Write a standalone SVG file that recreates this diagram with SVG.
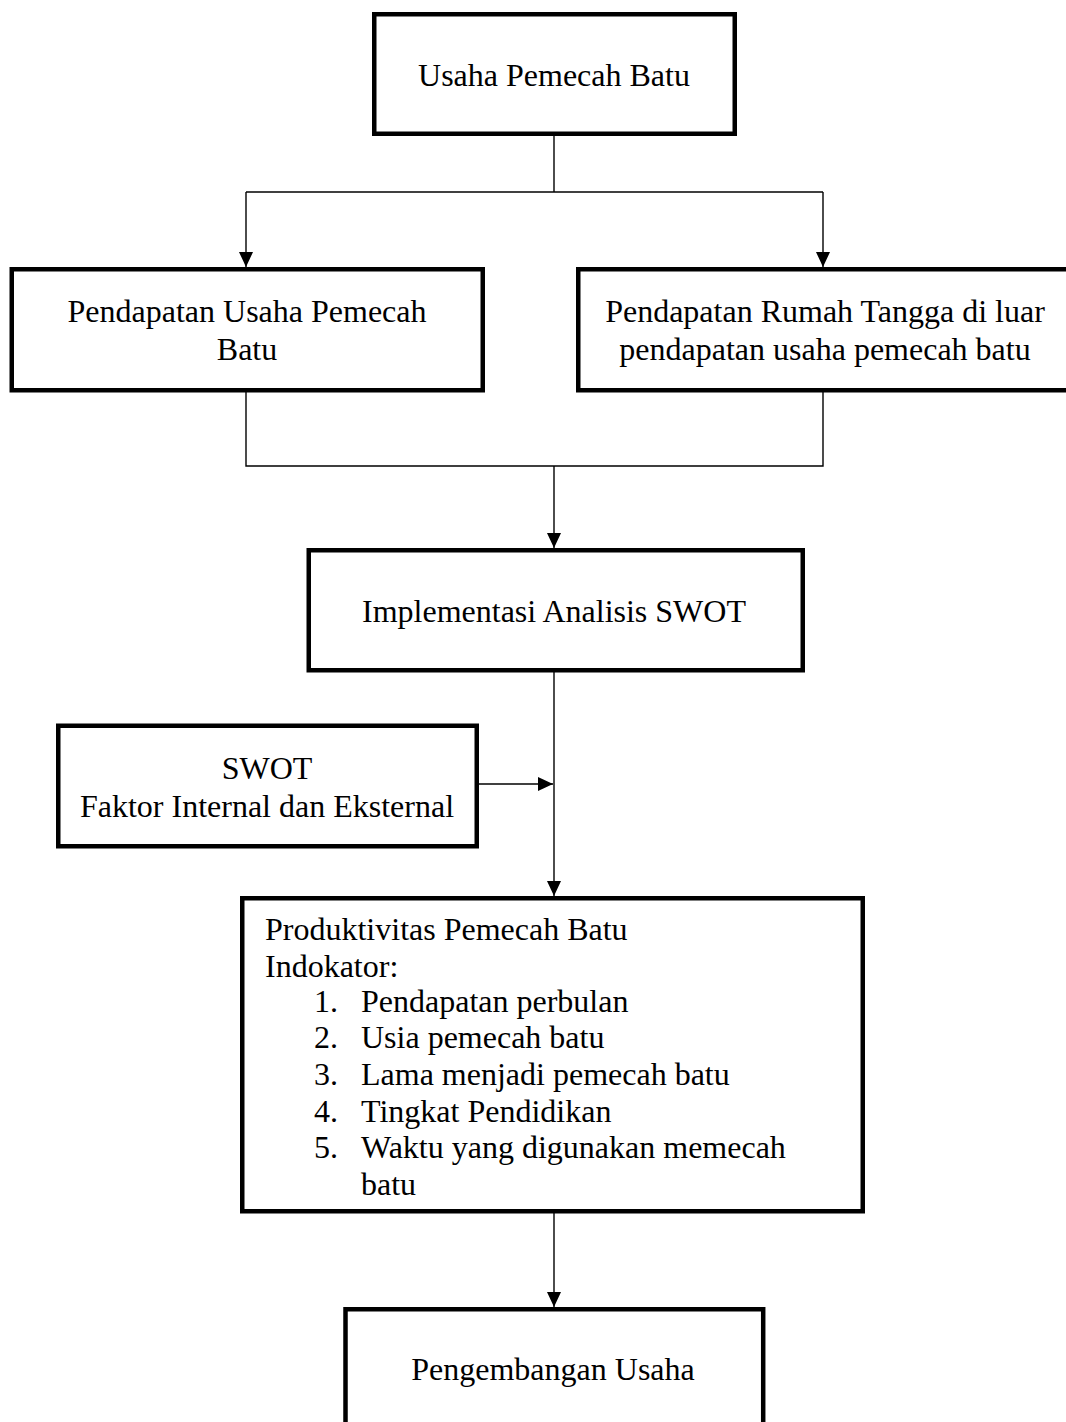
<svg xmlns="http://www.w3.org/2000/svg" width="1066" height="1422" viewBox="0 0 1066 1422">
  <style>
    .box { fill: #ffffff; stroke: #000000; stroke-width: 4.5; }
    .t { font-family: "Liberation Serif", "Times New Roman", serif; font-size: 32px; fill: #000000; }
    .c { text-anchor: middle; }
    .ln { fill: none; stroke: #000000; stroke-width: 1.4; }
  </style>
  <defs>
    <marker id="arr" markerUnits="userSpaceOnUse" markerWidth="16" markerHeight="16" refX="15" refY="7" orient="auto">
      <path d="M0,0 L15,7 L0,14 Z" fill="#000000"/>
    </marker>
  </defs>
  <rect width="1066" height="1422" fill="#ffffff"/>

  <g id="connectors">
    <path class="ln" d="M554,136 V192"/>
    <path class="ln" d="M246,192 H823"/>
    <path class="ln" d="M246,192 V267" marker-end="url(#arr)"/>
    <path class="ln" d="M823,192 V267" marker-end="url(#arr)"/>
    <path class="ln" d="M246,392 V466 H823 V392"/>
    <path class="ln" d="M554,466 V548" marker-end="url(#arr)"/>
    <path class="ln" d="M554,672 V896" marker-end="url(#arr)"/>
    <path class="ln" d="M479,784 H553" marker-end="url(#arr)"/>
    <path class="ln" d="M554,1213 V1307" marker-end="url(#arr)"/>
  </g>

  <g id="usaha">
    <rect class="box" x="374.25" y="14.25" width="360.5" height="119.5"/>
    <text class="t c" x="554" y="86">Usaha Pemecah Batu</text>
  </g>

  <g id="pendapatan-usaha">
    <rect class="box" x="11.75" y="269.25" width="471" height="121"/>
    <text class="t c" x="247" y="322">Pendapatan Usaha Pemecah</text>
    <text class="t c" x="247" y="360">Batu</text>
  </g>

  <g id="pendapatan-rumah-tangga">
    <rect class="box" x="578.25" y="269.25" width="500" height="121"/>
    <text class="t c" x="825" y="322">Pendapatan Rumah Tangga di luar</text>
    <text class="t c" x="825" y="360">pendapatan usaha pemecah batu</text>
  </g>

  <g id="implementasi">
    <rect class="box" x="308.75" y="550.25" width="494" height="120"/>
    <text class="t c" x="554" y="622">Implementasi Analisis SWOT</text>
  </g>

  <g id="swot">
    <rect class="box" x="58.25" y="725.75" width="418.5" height="120.5"/>
    <text class="t c" x="267" y="779">SWOT</text>
    <text class="t c" x="267" y="817">Faktor Internal dan Eksternal</text>
  </g>

  <g id="produktivitas">
    <rect class="box" x="242.25" y="898.25" width="620.5" height="313"/>
    <text class="t" x="265" y="940">Produktivitas Pemecah Batu</text>
    <text class="t" x="265" y="977">Indokator:</text>
    <text class="t" x="314" y="1012">1.</text>
    <text class="t" x="361" y="1012">Pendapatan perbulan</text>
    <text class="t" x="314" y="1048">2.</text>
    <text class="t" x="361" y="1048">Usia pemecah batu</text>
    <text class="t" x="314" y="1085">3.</text>
    <text class="t" x="361" y="1085">Lama menjadi pemecah batu</text>
    <text class="t" x="314" y="1122">4.</text>
    <text class="t" x="361" y="1122">Tingkat Pendidikan</text>
    <text class="t" x="314" y="1158">5.</text>
    <text class="t" x="361" y="1158">Waktu yang digunakan memecah</text>
    <text class="t" x="361" y="1195">batu</text>
  </g>

  <g id="pengembangan">
    <rect class="box" x="345.5" y="1309.25" width="417.7" height="121"/>
    <text class="t c" x="553" y="1380">Pengembangan Usaha</text>
  </g>
</svg>
